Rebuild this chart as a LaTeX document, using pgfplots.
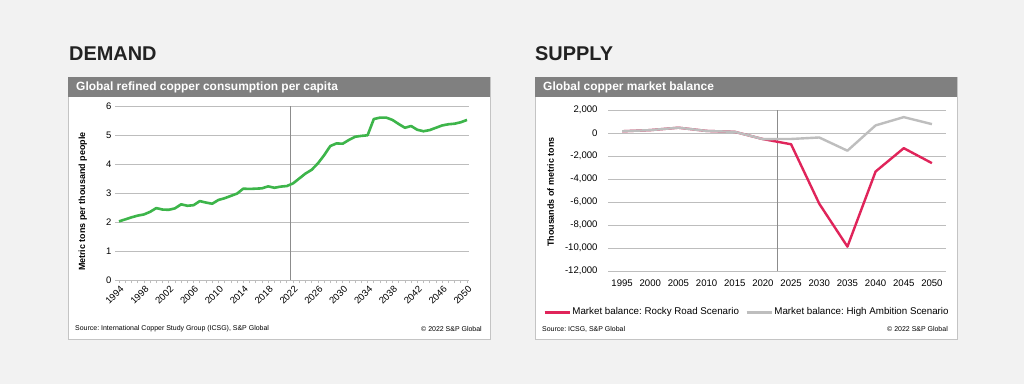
\documentclass[border=0pt]{standalone}
\usepackage{fontspec}
\setmainfont{Liberation Sans}
\usepackage{pgfplots}
\pgfplotsset{compat=1.18}
\frenchspacing
\definecolor{bg}{HTML}{F2F2F2}
\definecolor{band}{HTML}{808080}
\definecolor{framec}{HTML}{C4C4C4}
\definecolor{gridc}{HTML}{BDBDBD}
\definecolor{vlinec}{HTML}{8C8C8C}
\definecolor{cgreen}{HTML}{3DB54A}
\definecolor{cred}{HTML}{E0245A}
\definecolor{cgray}{HTML}{BEBEBE}
\definecolor{headc}{HTML}{222222}
\begin{document}
\begin{tikzpicture}[x=1bp,y=1bp]
\fill[bg] (0,0) rectangle (1024,384);
% headings
\node[anchor=base west, inner sep=0, text=headc, font=\fontsize{20}{24}\selectfont\bfseries] at (69,324) {DEMAND};
\node[anchor=base west, inner sep=0, text=headc, font=\fontsize{20}{24}\selectfont\bfseries] at (535,324) {SUPPLY};
% panels
\filldraw[fill=white, draw=framec, line width=1bp] (68,45) rectangle (490,307);
\fill[band] (68,287) rectangle (490,307);
\node[anchor=west, text=white, font=\fontsize{12}{14}\selectfont\bfseries, inner sep=0] at (76,297) {Global refined copper consumption per capita};
\filldraw[fill=white, draw=framec, line width=1bp] (535,45) rectangle (957,307);
\fill[band] (535,287) rectangle (957,307);
\node[anchor=west, text=white, font=\fontsize{12}{14}\selectfont\bfseries, inner sep=0] at (543,297) {Global copper market balance};
% sources
\node[anchor=west, inner sep=0, font=\fontsize{7}{8}\selectfont] at (75,55) {Source: International Copper Study Group (ICSG), S\&P Global};
\node[anchor=east, inner sep=0, font=\fontsize{7}{8}\selectfont] at (482,55) {© 2022 S\&P Global};
\node[anchor=west, inner sep=0, font=\fontsize{7}{8}\selectfont] at (542,55) {Source: ICSG, S\&P Global};
\node[anchor=east, inner sep=0, font=\fontsize{7}{8}\selectfont] at (948,55) {© 2022 S\&P Global};

% ---------- DEMAND chart ----------
\begin{axis}[
  at={(118bp,104bp)}, anchor=south west, scale only axis,
  width=351bp, height=174bp,
  xmin=1993.84, xmax=2050.32, ymin=0, ymax=6,
  axis x line*=bottom, axis y line*=left,
  x axis line style={draw=gridc, line width=0.8bp},
  y axis line style={draw=none},
  tick align=outside,
  major tick length=3bp, minor tick length=3bp,
  every tick/.style={draw=gridc, line width=0.6bp},
  ytick={0,1,2,3,4,5,6}, yticklabels={0,1,2,3,4,5,6},
  xtick={1994,1998,...,2050},
  xticklabels={1994,1998,2002,2006,2010,2014,2018,2022,2026,2030,2034,2038,2042,2046,2050},
  minor xtick={1995,...,2050},
  ymajorgrids, grid style={draw=gridc, line width=0.8bp},
  ticklabel style={font=\fontsize{9.5}{11}\selectfont},
  xticklabel style={rotate=45, anchor=north east, inner sep=1pt, yshift=-1bp},
  ylabel={Metric tons per thousand people},
  every axis y label/.style={at={(axis description cs:-0.1006,0.45)}, rotate=90, anchor=center,
    font=\fontsize{9}{10}\selectfont\bfseries},
  clip=false,
]
\addplot[vlinec, line width=0.8bp, forget plot] coordinates {(2021.63,0) (2021.63,6)};
\addplot[cgreen, line width=2.6bp, line join=round] coordinates {
(1994,2.02) (1995,2.09) (1996,2.16) (1997,2.22) (1998,2.26) (1999,2.35)
(2000,2.48) (2001,2.43) (2002,2.42) (2003,2.47) (2004,2.61) (2005,2.56)
(2006,2.58) (2007,2.72) (2008,2.67) (2009,2.63) (2010,2.76) (2011,2.82)
(2012,2.90) (2013,2.98) (2014,3.15) (2015,3.14) (2016,3.15) (2017,3.16)
(2018,3.23) (2019,3.18) (2020,3.22) (2021,3.24) (2022,3.33) (2023,3.50)
(2024,3.67) (2025,3.80) (2026,4.02) (2027,4.30) (2028,4.62) (2029,4.71)
(2030,4.70) (2031,4.83) (2032,4.94) (2033,4.97) (2034,4.99) (2035,5.55)
(2036,5.60) (2037,5.60) (2038,5.52) (2039,5.38) (2040,5.25) (2041,5.31)
(2042,5.18) (2043,5.13) (2044,5.17) (2045,5.25) (2046,5.33) (2047,5.37)
(2048,5.39) (2049,5.44) (2050,5.52)
};
\end{axis}

% ---------- SUPPLY chart ----------
\begin{axis}[
  at={(608bp,113bp)}, anchor=south west, scale only axis,
  width=338bp, height=161bp,
  xmin=1992.5, xmax=2052.5, ymin=-12000, ymax=2000,
  axis line style={draw=none},
  major tick length=0bp,
  scaled y ticks=false,
  ytick={-12000,-10000,-8000,-6000,-4000,-2000,0,2000},
  yticklabels={{-12,000},{-10,000},{-8,000},{-6,000},{-4,000},{-2,000},{0},{2,000}},
  xtick={1995,2000,...,2050},
  xticklabels={1995,2000,2005,2010,2015,2020,2025,2030,2035,2040,2045,2050},
  ymajorgrids, grid style={draw=gridc, line width=0.8bp},
  ticklabel style={font=\fontsize{9.6}{11}\selectfont},
  xticklabel style={yshift=-5bp},
  yticklabel style={xshift=-7bp},
  ylabel={Thousands of metric tons},
  every axis y label/.style={at={(axis description cs:-0.1695,0.49)}, rotate=90, anchor=center,
    font=\fontsize{9}{10}\selectfont\bfseries},
  legend columns=2,
  legend style={at={(axis description cs:-0.1923,-0.2547)}, anchor=west, draw=none, fill=none,
    font=\fontsize{9.8}{12}\selectfont, inner sep=0pt,
    nodes={inner sep=1.2bp},
    /tikz/every even column/.append style={column sep=5bp}},
  legend image code/.code={\draw[#1, line width=3bp] (0bp,0bp) -- (25bp,0bp);},
  clip=false,
]
\addplot[vlinec, line width=0.8bp, forget plot] coordinates {(2022.5,-12000) (2022.5,2000)};
\addplot[cred, line width=2.4bp, line join=round] coordinates {
(1995,150) (2000,250) (2005,460) (2010,180) (2015,100) (2020,-530)
(2025,-980) (2030,-6150) (2035,-9880) (2040,-3350) (2045,-1320) (2050,-2620)
};
\addlegendentry{Market balance: Rocky Road Scenario}
\addplot[cgray, line width=2.4bp, line join=round] coordinates {
(1995,150) (2000,250) (2005,460) (2010,180) (2015,100) (2020,-530)
(2025,-520) (2030,-390) (2035,-1540) (2040,660) (2045,1380) (2050,770)
};
\addlegendentry{Market balance: High Ambition Scenario}
\end{axis}
\end{tikzpicture}
\end{document}
